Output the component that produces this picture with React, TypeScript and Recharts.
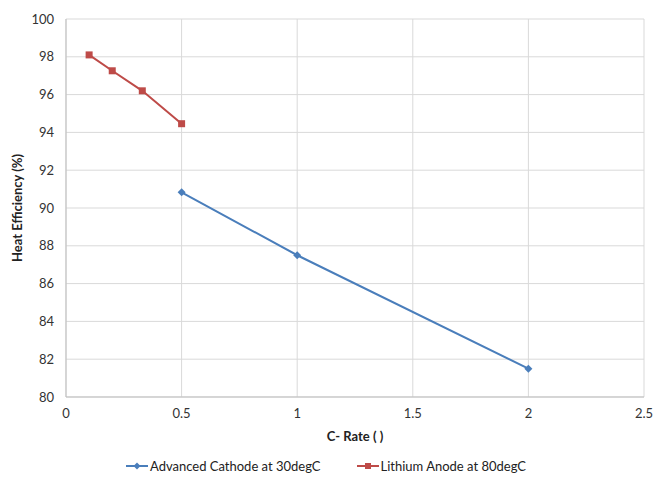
import React from 'react';
import {
  LineChart,
  Line,
  XAxis,
  YAxis,
  CartesianGrid,
  Legend
} from 'recharts';

// C-rate values and heat efficiency (%)
const cathodeRates = [0.5, 1, 2];
const cathodeEff = [90.83, 87.5, 81.5];
const anodeRates = [0.1, 0.2, 0.33, 0.5];
const anodeEff = [98.1, 97.26, 96.2, 94.46];

const xTicks = [0, 0.5, 1, 1.5, 2, 2.5];
const yTicks = [80, 82, 84, 86, 88, 90, 92, 94, 96, 98, 100];

const seriesNames = ['Advanced Cathode at 30degC', 'Lithium Anode at 80degC'];

const BLUE = '#4A7EBB';
const RED = '#BE4B48';
const FONT = 'Lato, "Open Sans", sans-serif';

const cathodeData = cathodeRates.map((x, i) => ({ x, y: cathodeEff[i] }));
const anodeData = anodeRates.map((x, i) => ({ x, y: anodeEff[i] }));

const Diamond = (props: any) => {
  const { cx, cy } = props;
  if (cx == null || cy == null) return null;
  const r = 4;
  return (
    <path
      d={`M${cx},${cy - r} L${cx + r},${cy} L${cx},${cy + r} L${cx - r},${cy} Z`}
      fill={BLUE}
    />
  );
};

const Square = (props: any) => {
  const { cx, cy } = props;
  if (cx == null || cy == null) return null;
  return <rect x={cx - 3.5} y={cy - 3.5} width={7} height={7} fill={RED} />;
};

const renderLegend = () => (
  <div
    style={{
      display: 'flex',
      justifyContent: 'center',
      gap: 36,
      marginTop: 11,
      paddingLeft: 8,
      fontFamily: FONT,
      fontSize: 13,
      color: '#222'
    }}
  >
    {[BLUE, RED].map((color, i) => (
      <span key={i} style={{ display: 'flex', alignItems: 'center' }}>
        <svg width={22} height={10} style={{ marginRight: 2 }}>
          <line x1={0} y1={5} x2={22} y2={5} stroke={color} strokeWidth={2} />
          {i === 0 ? (
            <path d="M11,1.5 L14.5,5 L11,8.5 L7.5,5 Z" fill={color} />
          ) : (
            <rect x={8} y={2} width={6} height={6} fill={color} />
          )}
        </svg>
        {seriesNames[i]}
      </span>
    ))}
  </div>
);

export default function App() {
  return (
    <div style={{ position: 'absolute', left: 0, top: 0, background: '#fff' }}>
      <LineChart
        width={656}
        height={480}
        margin={{ top: 19, right: 12, left: 0, bottom: 8 }}
      >
        <CartesianGrid stroke="#D9D9D9" />
        <XAxis
          type="number"
          dataKey="x"
          domain={[0, 2.5]}
          ticks={xTicks}
          height={50}
          stroke="#BFBFBF"
          tickLine={false}
          tick={{ fill: '#333', fontSize: 13, fontFamily: FONT }}
          tickMargin={6}
          label={{
            value: 'C- Rate ( )',
            position: 'insideBottom',
            offset: 6,
            style: { fontWeight: 'bold', fontSize: 13, fill: '#222', fontFamily: FONT }
          }}
        />
        <YAxis
          type="number"
          domain={[80, 100]}
          ticks={yTicks}
          width={66}
          stroke="#BFBFBF"
          tickLine={false}
          tick={{ fill: '#333', fontSize: 13, fontFamily: FONT }}
          tickMargin={6}
          label={{
            value: 'Heat Efficiency (%)',
            angle: -90,
            position: 'insideLeft',
            offset: 17,
            style: { textAnchor: 'middle', fontWeight: 'bold', fontSize: 13, fill: '#222', fontFamily: FONT }
          }}
        />
        <Legend verticalAlign="bottom" height={25} content={renderLegend} />
        <Line
          data={cathodeData}
          dataKey="y"
          name={seriesNames[0]}
          stroke={BLUE}
          strokeWidth={2}
          dot={<Diamond />}
          activeDot={false}
          isAnimationActive={false}
        />
        <Line
          data={anodeData}
          dataKey="y"
          name={seriesNames[1]}
          stroke={RED}
          strokeWidth={2}
          dot={<Square />}
          activeDot={false}
          isAnimationActive={false}
        />
      </LineChart>
    </div>
  );
}
